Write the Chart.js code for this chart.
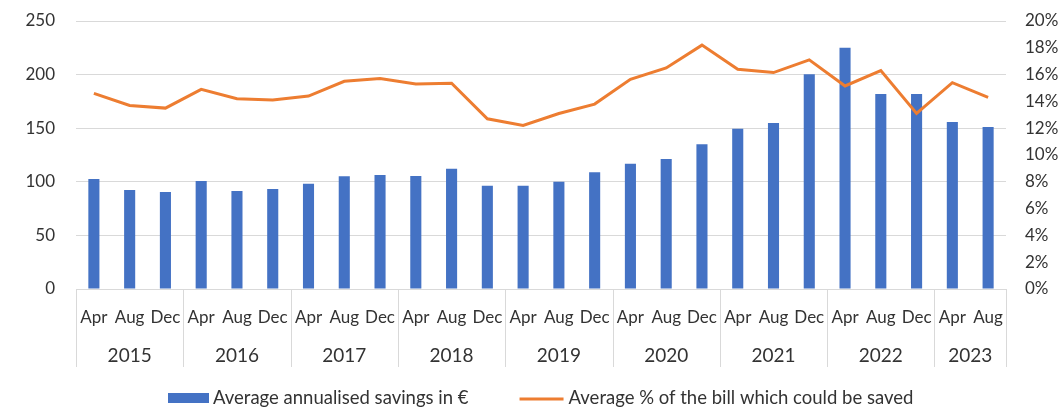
<!DOCTYPE html>
<html><head><meta charset="utf-8">
<script src="https://cdn.jsdelivr.net/npm/chart.js@4.4.0/dist/chart.umd.min.js"></script>
<style>html,body{margin:0;padding:0;background:#fff}#wrap{width:1060px;height:409px;position:relative}</style>
</head><body><div id="wrap"><canvas id="c"></canvas></div>
<script>
const months = ['Apr','Aug','Dec','Apr','Aug','Dec','Apr','Aug','Dec','Apr','Aug','Dec','Apr','Aug','Dec','Apr','Aug','Dec','Apr','Aug','Dec','Apr','Aug','Dec','Apr','Aug'];
const years = ['2015','2016','2017','2018','2019','2020','2021','2022','2023'];
const monthsPerYear = [3,3,3,3,3,3,3,3,2];
const savings = [102.5,92.4,90.5,100.7,91.4,93.3,98.2,105.1,106.3,105.4,112.2,96.4,96.4,100.1,108.8,116.9,121.3,135,149.6,154.9,200.3,225,182,182,155.8,151.1];
const billPct = [14.6,13.7,13.5,14.9,14.2,14.1,14.4,15.5,15.7,15.3,15.35,12.7,12.2,13.1,13.8,15.65,16.5,18.2,16.4,16.15,17.1,15.15,16.3,13.1,15.4,14.3];
const leftTicks = [0,50,100,150,200,250];
const rightTicks = [0,2,4,6,8,10,12,14,16,18,20];
const seriesNames = ['Average annualised savings in €','Average % of the bill which could be saved'];

const FONT = 'Lato';
const TXT = '#333333';
const GRID = '#D9D9D9';
const BLUE = '#4472C4';
const ORANGE = '#ED7D31';

const yearPlugin = {
  id: 'yearAxis',
  afterDraw(chart) {
    const x = chart.scales.x, ctx = chart.ctx;
    const half = (x.getPixelForTick(1) - x.getPixelForTick(0)) / 2;
    const top = chart.chartArea.bottom, bottom = top + 78;
    ctx.save();
    ctx.strokeStyle = GRID; ctx.lineWidth = 1;
    ctx.fillStyle = TXT;
    ctx.font = '19px ' + FONT;
    ctx.textAlign = 'center'; ctx.textBaseline = 'middle';
    let idx = 0;
    const bounds = [];
    years.forEach((y, i) => {
      const s = idx, e = idx + monthsPerYear[i] - 1;
      const left = x.getPixelForTick(s) - half, right = x.getPixelForTick(e) + half;
      bounds.push(left); if (i === years.length - 1) bounds.push(right);
      ctx.fillText(y, (left + right) / 2, top + 67);
      idx += monthsPerYear[i];
    });
    bounds.forEach(b => {
      const px = Math.round(b) + 0.5;
      ctx.beginPath(); ctx.moveTo(px, top); ctx.lineTo(px, bottom); ctx.stroke();
    });
    ctx.restore();
  }
};

const legendPlugin = {
  id: 'customLegend',
  afterDraw(chart) {
    const ctx = chart.ctx;
    const yc = 398;
    ctx.save();
    ctx.font = '18.5px ' + FONT;
    ctx.textBaseline = 'middle'; ctx.textAlign = 'left';
    const w1 = ctx.measureText(seriesNames[0]).width;
    const boxW = 41, gapT = 4, gapItems = 51, lineW = 44;
    const x0 = 168;
    ctx.fillStyle = BLUE;
    ctx.fillRect(x0, yc - 5, boxW, 10);
    ctx.fillStyle = TXT;
    ctx.fillText(seriesNames[0], x0 + boxW + gapT, yc);
    const x1 = x0 + boxW + gapT + w1 + gapItems;
    ctx.strokeStyle = ORANGE; ctx.lineWidth = 3;
    ctx.beginPath(); ctx.moveTo(x1, yc + 1); ctx.lineTo(x1 + lineW, yc + 1); ctx.stroke();
    ctx.fillText(seriesNames[1], x1 + lineW + gapT + 1, yc);
    ctx.restore();
  }
};

function fixVPad(w) {
  return s => { s.width = w; s.paddingTop = 10; s.paddingBottom = 10; };
}

new Chart(document.getElementById('c'), {
  data: {
    labels: months,
    datasets: [
      { type: 'line', label: seriesNames[1], data: billPct, yAxisID: 'y1',
        borderColor: ORANGE, borderWidth: 3, pointRadius: 0, tension: 0, order: 0 },
      { type: 'bar', label: seriesNames[0], data: savings, yAxisID: 'y',
        backgroundColor: BLUE, barPercentage: 0.62, categoryPercentage: 0.5, order: 1 }
    ]
  },
  options: {
    responsive: true, maintainAspectRatio: false, animation: false,
    layout: { padding: { top: 21, bottom: 42, left: 0, right: 0 } },
    plugins: { legend: { display: false }, tooltip: { enabled: false } },
    scales: {
      x: {
        grid: { display: false, drawTicks: false },
        border: { display: false },
        ticks: { autoSkip: false, maxRotation: 0, minRotation: 0, color: TXT, font: { family: FONT, size: 17 }, padding: 18 },
        afterFit: s => { s.height = 78; }
      },
      y: {
        position: 'left', min: 0, max: 250,
        afterBuildTicks: s => { s.ticks = leftTicks.map(v => ({ value: v })); },
        grid: { color: GRID, drawTicks: false, lineWidth: 1 },
        border: { display: false },
        ticks: { color: TXT, font: { family: FONT, size: 17 }, padding: 21 },
        afterFit: fixVPad(76)
      },
      y1: {
        position: 'right', min: 0, max: 20,
        afterBuildTicks: s => { s.ticks = rightTicks.map(v => ({ value: v })); },
        grid: { display: false, drawTicks: false },
        border: { display: false },
        ticks: { color: TXT, font: { family: FONT, size: 17 }, padding: 19, callback: v => v + '%' },
        afterFit: fixVPad(54)
      }
    }
  },
  plugins: [yearPlugin, legendPlugin]
});
</script>
</body></html>
